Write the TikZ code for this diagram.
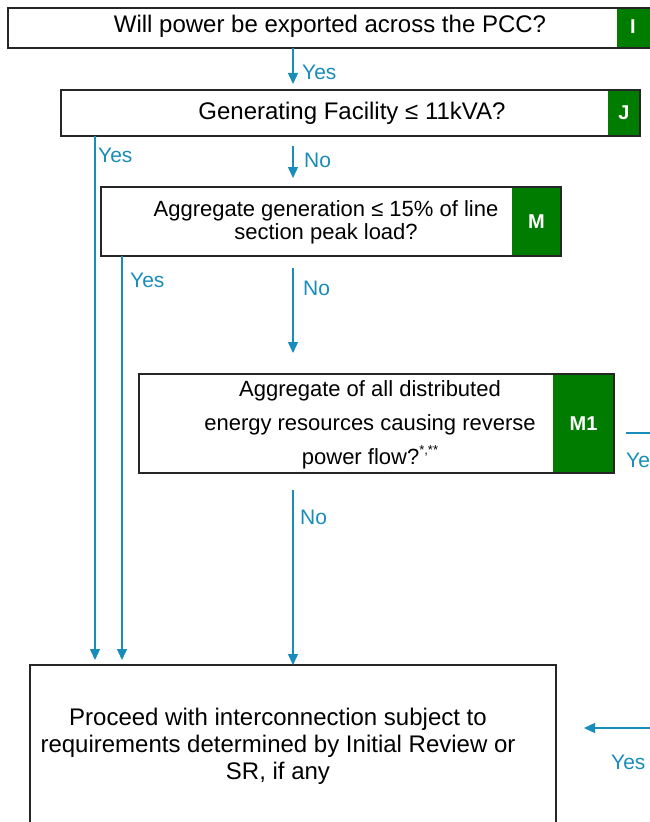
\documentclass[tikz,border=0pt]{standalone}
\usepackage{fontspec}
\setmainfont{Liberation Sans}
\usetikzlibrary{arrows.meta,calc}
\definecolor{flowblue}{RGB}{25,141,185}
\definecolor{tagreen}{RGB}{0,124,0}
\tikzset{
  qbox/.style={draw=black!85, line width=1.3bp, anchor=north west, inner sep=0pt, outer sep=0pt},
  tagbox/.style={fill=tagreen, anchor=north west, inner sep=0pt, outer sep=0pt, text=white, font=\fontsize{20bp}{22bp}\selectfont\bfseries},
  bigtxt/.style={align=center, inner sep=0pt, font=\fontsize{24bp}{27bp}\selectfont},
  midtxt/.style={align=center, inner sep=0pt, font=\fontsize{22bp}{23bp}\selectfont},
  lbl/.style={text=flowblue, inner sep=0pt, anchor=west, font=\fontsize{21bp}{23bp}\selectfont},
  arr/.style={draw=flowblue, line width=1.4bp, -{Triangle[width=10bp,length=11bp]}},
  ln/.style={draw=flowblue, line width=1.4bp}
}
\begin{document}
\begin{tikzpicture}[x=1bp,y=-1bp]
\useasboundingbox (0,0) rectangle (650,822);
% tags first, then box outlines on top
\node[tagbox, minimum width=40bp, minimum height=40bp] (Itag) at (617,8) {};
\node at (633,27) [text=white, font=\fontsize{20bp}{22bp}\selectfont\bfseries] (Itagtxt) {I};
\node[qbox, minimum width=650bp, minimum height=40bp] (I) at (8,8) {};
\node[bigtxt] (Itxt) at (330,26) {Will power be exported across the PCC?};

\node[tagbox, minimum width=32bp, minimum height=46bp] (Jtag) at (608,90) {J};
\node[qbox, minimum width=579bp, minimum height=46bp] (J) at (61,90) {};
\node[bigtxt] (Jtxt) at (352,113) {Generating Facility ≤ 11kVA?};

\node[tagbox, minimum width=49bp, minimum height=69bp] (Mtag) at (512,187) {M};
\node[qbox, minimum width=460bp, minimum height=69bp] (M) at (101,187) {};
\node[midtxt] (Mtxt) at (326,222) {Aggregate generation ≤ 15\% of line\\section peak load?};

\node[tagbox, minimum width=61bp, minimum height=99bp] (M1tag) at (553,374) {M1};
\node[qbox, minimum width=475bp, minimum height=99bp] (M1) at (139,374) {};
\node[align=center, inner sep=0pt, font=\fontsize{22bp}{34bp}\selectfont] (M1txt) at (370,425) {Aggregate of all distributed\\energy resources causing reverse\\power flow?\raisebox{0.45em}{\fontsize{13bp}{14bp}\selectfont*,**}};

\node[qbox, minimum width=526bp, minimum height=170bp] (P) at (30,665) {};
\node[bigtxt] (Ptxt) at (278,746) {Proceed with interconnection subject to\\requirements determined by Initial Review or\\SR, if any};

% helper coordinates
\coordinate (xa) at (293,0);
\coordinate (xy) at (95,0);
\coordinate (xm) at (122,0);
\coordinate (r1) at (660,433);
\coordinate (r2) at (660,728);

% connectors
\draw[arr, shorten >=6bp] (I.south -| xa) -- (J.north -| xa);
\node[lbl] (yes1) at (302,72) {Yes};

\draw[arr, shorten <=10bp, shorten >=9bp] (J.south -| xa) -- (M.north -| xa);
\node[lbl] (no1) at (304,160) {No};

\draw[arr, shorten >=5bp] (J.south -| xy) -- (P.north -| xy);
\node[lbl] (yes2) at (98,155) {Yes};

\draw[arr, shorten <=12bp, shorten >=21bp] (M.south -| xa) -- (M1.north -| xa);
\node[lbl] (no2) at (303,288) {No};

\draw[arr, shorten >=5bp] (M.south -| xm) -- (P.north -| xm);
\node[lbl] (yes3) at (130,280) {Yes};

\draw[arr, shorten <=17bp] (M1.south -| xa) -- (P.north -| xa);
\node[lbl] (no3) at (300,517) {No};

\draw[ln, shorten <=12bp] (M1.east |- r1) -- (r1);
\node[lbl] (yes4) at (626,460) {Yes};

\draw[arr, shorten >=28bp] (r2) -- (P.east |- r2);
\node[lbl] (yes5) at (611,762) {Yes};
\end{tikzpicture}
\end{document}
